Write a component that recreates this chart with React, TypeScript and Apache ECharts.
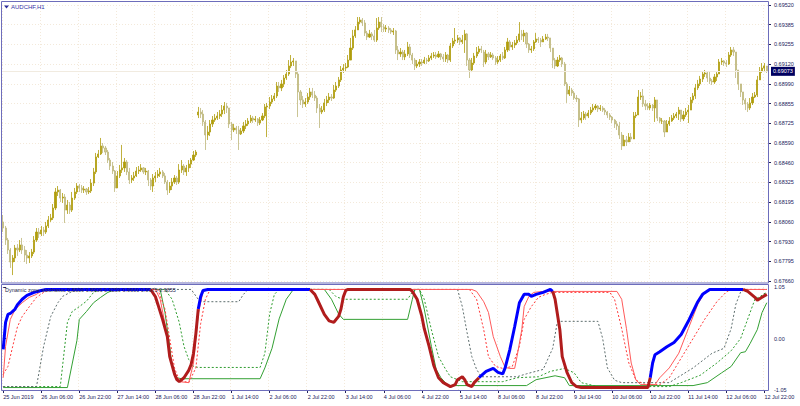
import React, { useEffect, useRef } from "react";
import * as echarts from "echarts";

// ---------- time axis ----------
const DAYS = ["25 Jun", "26 Jun", "27 Jun", "28 Jun", "1 Jul", "2 Jul", "3 Jul", "4 Jul", "5 Jul", "8 Jul", "9 Jul", "10 Jul", "11 Jul", "12 Jul"];
const FIRST_HOUR = 14;
const FIRST_LABEL = "25 Jun 2019";
const LABEL_EVERY = 16;
const CATEGORIES: string[] = [];
DAYS.forEach((d, di) => {
  for (let h = di === 0 ? FIRST_HOUR : 0; h < 24; h++) CATEGORIES.push(`${d} ${String(h).padStart(2, "0")}:00`);
});

// ---------- price axis ----------
const PRICE_MIN = 0.6766;
const PRICE_MAX = 0.6952;
const PRICE_TICKS = ["0.67660", "0.67795", "0.67930", "0.68060", "0.68195", "0.68325", "0.68460", "0.68590", "0.68725", "0.68855", "0.68990", "0.69120", "0.69255", "0.69385", "0.69520"];
const LAST_PRICE = 0.69073;

// ---------- AUDCHF H1 candles (price x 1e5) ----------
const OPEN_AT: Record<number, number> = { 0: 68058, 82: 68779, 202: 69203 };
const CLOSE = [
  68017, 67936, 67869, 67788, 67815, 67882, 67869, 67903, 67869, 67835,
  67815, 67829, 67855, 67936, 67990, 67977, 68004, 67990, 68031, 68071,
  68085, 68152, 68260, 68273, 68219, 68226, 68138, 68172, 68138, 68219,
  68260, 68300, 68287, 68273, 68280, 68260, 68267, 68320, 68395, 68496,
  68516, 68570, 68556, 68529, 68475, 68435, 68401, 68287, 68368, 68408,
  68422, 68462, 68395, 68341, 68354, 68368, 68401, 68408, 68422, 68395,
  68401, 68341, 68300, 68354, 68368, 68381, 68395, 68368, 68327, 68273,
  68300, 68327, 68354, 68327, 68408, 68435, 68395, 68422, 68448, 68475,
  68509, 68529, 68799, 68785, 68732, 68644, 68664, 68718, 68745, 68758,
  68772, 68785, 68812, 68839, 68826, 68718, 68678, 68691, 68678, 68651,
  68671, 68705, 68718, 68738, 68758, 68745, 68752, 68725, 68745, 68772,
  68833, 68839, 68866, 68887, 68907, 68974, 68961, 68988, 69028, 69055,
  69109, 69136, 69143, 69055, 68934, 68880, 68853, 68866, 68900, 68934,
  68913, 68893, 68826, 68799, 68812, 68860, 68880, 68900, 68893, 68947,
  68974, 69015, 69082, 69095, 69102, 69149, 69230, 69311, 69352, 69405,
  69419, 69399, 69331, 69304, 69325, 69311, 69284, 69365, 69405, 69372,
  69358, 69365, 69352, 69338, 69345, 69217, 69190, 69203, 69170, 69190,
  69237, 69183, 69149, 69109, 69122, 69136, 69129, 69149, 69143, 69163,
  69176, 69183, 69170, 69190, 69170, 69156, 69183, 69149, 69244, 69277,
  69284, 69298, 69271, 69284, 69325, 69149, 69082, 69129, 69176, 69203,
  69224, 69217, 69136, 69190, 69170, 69183, 69163, 69136, 69149, 69176,
  69163, 69217, 69271, 69237, 69250, 69264, 69284, 69325, 69311, 69331,
  69257, 69217, 69224, 69271, 69291, 69284, 69271, 69291, 69304, 69298,
  69230, 69149, 69109, 69149, 69163, 69122, 68988, 68920, 68947, 68927,
  68893, 68887, 68745, 68758, 68785, 68772, 68792, 68812, 68826, 68839,
  68819, 68826, 68812, 68799, 68779, 68765, 68745, 68718, 68705, 68644,
  68570, 68610, 68597, 68630, 68617, 68772, 68779, 68900, 68907, 68853,
  68839, 68826, 68846, 68826, 68880, 68758, 68738, 68738, 68664, 68718,
  68738, 68758, 68772, 68785, 68812, 68752, 68779, 68799, 68812, 68880,
  68907, 68961, 68988, 69021, 69055, 69062, 69028, 69008, 69001, 69035,
  69055, 69136, 69143, 69129, 69122, 69183, 69217, 69203, 69082, 68988,
  68934, 68880, 68853, 68826, 68860, 68900, 68913, 69015, 69075, 69095,
  69109, 69073,
];
const HIGH = [
  68105, 68031, 67950, 67882, 67835, 67903, 67909, 67936, 67950, 67896,
  67869, 67855, 67876, 67963, 68017, 68017, 68031, 68024, 68058, 68098,
  68112, 68179, 68287, 68300, 68280, 68253, 68246, 68206, 68192, 68260,
  68287, 68320, 68314, 68307, 68300, 68287, 68293, 68347, 68422, 68523,
  68543, 68624, 68590, 68570, 68543, 68489, 68462, 68408, 68401, 68442,
  68577, 68489, 68475, 68422, 68374, 68395, 68428, 68435, 68448, 68428,
  68422, 68408, 68354, 68381, 68395, 68408, 68422, 68408, 68388, 68341,
  68327, 68354, 68374, 68368, 68448, 68475, 68448, 68442, 68475, 68489,
  68536, 68543, 68833, 68826, 68812, 68745, 68705, 68745, 68772, 68785,
  68799, 68812, 68846, 68866, 68860, 68826, 68732, 68718, 68705, 68705,
  68691, 68732, 68745, 68758, 68779, 68772, 68772, 68758, 68765, 68792,
  68853, 68860, 68900, 68913, 68927, 69001, 69001, 69015, 69048, 69082,
  69149, 69183, 69163, 69136, 69068, 68947, 68907, 68893, 68927, 68961,
  68961, 68940, 68907, 68853, 68839, 68887, 68907, 68927, 68920, 68981,
  69001, 69035, 69109, 69122, 69129, 69183, 69298, 69352, 69378, 69439,
  69439, 69432, 69419, 69345, 69352, 69338, 69352, 69432, 69439, 69439,
  69392, 69385, 69378, 69365, 69365, 69352, 69244, 69230, 69217, 69217,
  69271, 69257, 69197, 69163, 69149, 69156, 69156, 69170, 69163, 69183,
  69197, 69203, 69203, 69210, 69197, 69190, 69203, 69190, 69264, 69298,
  69365, 69318, 69304, 69318, 69352, 69331, 69163, 69163, 69197, 69237,
  69244, 69244, 69217, 69217, 69203, 69203, 69197, 69176, 69176, 69190,
  69203, 69237, 69298, 69284, 69271, 69284, 69311, 69405, 69352, 69352,
  69338, 69264, 69244, 69284, 69331, 69304, 69298, 69311, 69325, 69325,
  69298, 69230, 69163, 69170, 69183, 69170, 69136, 69001, 68974, 68961,
  68940, 68913, 68893, 68799, 68806, 68799, 68812, 68833, 68853, 68853,
  68846, 68846, 68839, 68826, 68806, 68792, 68772, 68752, 68738, 68732,
  68664, 68644, 68637, 68657, 68657, 68799, 68799, 68947, 68934, 68954,
  68880, 68860, 68860, 68853, 68900, 68880, 68765, 68758, 68745, 68745,
  68765, 68779, 68792, 68799, 68833, 68812, 68806, 68826, 68846, 68900,
  68927, 68988, 69015, 69042, 69075, 69082, 69075, 69068, 69021, 69055,
  69068, 69156, 69163, 69149, 69149, 69203, 69237, 69237, 69183, 69082,
  68981, 68927, 68893, 68866, 68893, 68927, 68934, 69042, 69102, 69129,
  69129, 69109,
];
const LOW = [
  67990, 67903, 67842, 67748, 67700, 67788, 67829, 67855, 67842, 67788,
  67775, 67781, 67815, 67842, 67923, 67950, 67963, 67963, 67977, 68017,
  68058, 68071, 68138, 68233, 68192, 68186, 68051, 68112, 68112, 68125,
  68206, 68246, 68260, 68253, 68253, 68240, 68246, 68253, 68300, 68381,
  68489, 68509, 68523, 68509, 68455, 68408, 68381, 68260, 68300, 68354,
  68388, 68395, 68374, 68314, 68320, 68334, 68361, 68381, 68395, 68381,
  68374, 68300, 68273, 68260, 68327, 68354, 68361, 68354, 68314, 68240,
  68253, 68273, 68314, 68307, 68314, 68388, 68374, 68368, 68395, 68422,
  68469, 68496, 68758, 68758, 68705, 68543, 68610, 68637, 68698, 68732,
  68745, 68752, 68765, 68785, 68792, 68691, 68610, 68664, 68651, 68543,
  68644, 68657, 68684, 68705, 68725, 68725, 68732, 68705, 68711, 68738,
  68758, 68630, 68819, 68853, 68873, 68893, 68934, 68940, 68967, 69015,
  69042, 69095, 69109, 69028, 68765, 68846, 68826, 68833, 68853, 68880,
  68893, 68873, 68792, 68691, 68785, 68799, 68839, 68860, 68873, 68887,
  68934, 68961, 69001, 69062, 69075, 69095, 69163, 69217, 69298, 69352,
  69392, 69378, 69311, 69284, 69298, 69284, 69271, 69271, 69352, 69338,
  69338, 69338, 69331, 69325, 69318, 69190, 69149, 69170, 69149, 69149,
  69176, 69163, 69122, 69082, 69095, 69102, 69109, 69122, 69122, 69136,
  69149, 69163, 69156, 69163, 69149, 69136, 69136, 69129, 69136, 69230,
  69257, 69264, 69250, 69257, 69197, 69109, 69028, 69068, 69116, 69163,
  69190, 69197, 69102, 69122, 69149, 69163, 69149, 69116, 69122, 69136,
  69149, 69156, 69203, 69210, 69217, 69230, 69250, 69271, 69284, 69271,
  69230, 69197, 69197, 69210, 69264, 69264, 69237, 69271, 69284, 69277,
  69203, 69095, 69089, 69102, 69136, 69102, 68974, 68860, 68907, 68907,
  68880, 68866, 68698, 68725, 68745, 68745, 68758, 68779, 68799, 68812,
  68799, 68806, 68799, 68779, 68758, 68745, 68725, 68691, 68678, 68617,
  68543, 68570, 68570, 68597, 68597, 68617, 68758, 68779, 68880, 68833,
  68812, 68812, 68812, 68806, 68732, 68738, 68725, 68718, 68630, 68678,
  68705, 68732, 68745, 68758, 68745, 68732, 68738, 68765, 68725, 68812,
  68860, 68887, 68947, 68974, 69001, 69035, 69001, 68988, 68981, 68988,
  69008, 69055, 69116, 69109, 69102, 69116, 69170, 69176, 69028, 68947,
  68900, 68846, 68812, 68799, 68812, 68846, 68893, 68900, 69021, 69062,
  69068, 69062,
];

// ---------- Dynamic zone stochastic ([bar index, value]) ----------
const IND_TITLE = "Dynamic zone stochastic 0.8609 0.8906 0.9259 0.9660 0.9975 0.9855";
const IND_MIN = -1.05;
const IND_MAX = 1.05;
const MAIN_LINE: [number, number][] = [[0,-0.22],[1,0.33],[2,0.49],[3,0.51],[5,0.6],[6,0.69],[8,0.8],[10,0.88],[13,0.94],[16,0.98],[18,1],[62,1],[64,0.85],[65,0.7],[67,0.39],[69,0.04],[70,-0.37],[72,-0.72],[73,-0.84],[74,-0.88],[76,-0.8],[78,-0.65],[79,-0.53],[80,-0.3],[81,0.1],[82,0.6],[83,0.85],[84,0.98],[86,1],[129,1],[131,0.9],[132,0.8],[135,0.49],[137,0.36],[139,0.33],[141,0.45],[142,0.6],[143,0.85],[144,0.98],[145,1],[171,1],[172,0.96],[174,0.8],[176,0.45],[177,0.2],[179,-0.15],[181,-0.55],[183,-0.8],[185,-0.9],[188,-0.98],[190,-0.94],[191,-0.84],[193,-0.78],[194,-0.84],[195,-0.94],[197,-0.98],[198,-0.9],[200,-0.8],[203,-0.67],[206,-0.61],[208,-0.69],[210,-0.72],[211,-0.6],[213,-0.22],[215,0.24],[217,0.73],[219,0.9],[221,0.9],[222,0.86],[224,0.9],[227,0.94],[230,1],[231,0.96],[232,0.8],[234,0.18],[235,-0.37],[237,-0.69],[239,-0.9],[241,-0.98],[243,-1],[271,-1],[272,-0.8],[273,-0.5],[274,-0.33],[276,-0.27],[279,-0.17],[282,-0.08],[285,0.08],[288,0.35],[290,0.55],[292,0.75],[294,0.9],[297,1],[311,1],[313,0.96],[314,0.92],[316,0.84],[317,0.78],[319,0.84],[321,0.9]];
const MAIN_DOWN_RANGES: [number, number][] = [[62, 82], [129, 145], [171, 200], [231, 272], [311, 321]];
const RED_SOLID: [number, number][] = [[0,-0.8],[1,-0.16],[3,0.39],[5,0.59],[8,0.73],[11,0.84],[14,0.9],[17,1],[64,1],[66,0.8],[68,0.3],[70,-0.3],[72,-0.7],[74,-0.88],[78,-0.9],[80,-0.5],[82,0.5],[84,0.95],[86,1],[197,1],[199,0.96],[202,0.75],[204,0.53],[206,0.04],[209,-0.37],[211,-0.59],[213,-0.61],[215,-0.61],[216,-0.37],[218,0.18],[219,0.65],[221,0.86],[223,0.94],[227,0.96],[258,0.96],[260,0.8],[262,0.2],[264,-0.5],[266,-0.85],[268,-0.94],[274,-0.94],[276,-0.8],[280,-0.6],[284,-0.3],[288,0.2],[292,0.7],[295,0.95],[297,1],[321,1]];
const RED_DOT: [number, number][] = [[0,-0.73],[2,-0.57],[4,-0.16],[6,0.24],[8,0.45],[11,0.65],[14,0.84],[17,0.94],[20,1],[65,1],[68,0.6],[70,0],[72,-0.6],[74,-0.85],[78,-0.9],[81,-0.6],[83,0.3],[85,0.8],[87,1],[196,1],[199,0.8],[202,0.18],[204,-0.37],[207,-0.57],[210,-0.61],[214,-0.57],[217,-0.16],[219,0.39],[222,0.65],[225,0.84],[228,0.9],[231,0.94],[255,0.94],[257,0.8],[260,0.2],[263,-0.5],[266,-0.85],[270,-0.94],[276,-0.94],[280,-0.8],[285,-0.4],[290,0],[295,0.4],[300,0.75],[304,0.95],[306,1],[321,1]];
const GRAY_DOT: [number, number][] = [[0,-0.98],[14,-0.98],[17,-0.16],[20,0.45],[23,0.73],[25,0.86],[29,0.96],[34,1],[79,1],[82,0.8],[84,0.75],[99,0.75],[101,0.9],[103,1],[191,1],[193,0.65],[195,0.12],[197,-0.37],[199,-0.63],[201,-0.78],[216,-0.78],[220,-0.72],[227,-0.63],[231,-0.2],[233,0.35],[250,0.35],[252,0],[254,-0.6],[257,-0.85],[260,-0.9],[280,-0.9],[290,-0.6],[298,-0.3],[303,-0.2],[306,0.2],[308,0.7],[310,0.95],[312,1],[321,1]];
const GREEN_DOT: [number, number][] = [[0,-0.98],[24,-0.98],[27,0.33],[29,0.55],[32,0.65],[35,0.76],[38,0.94],[41,1],[68,1],[71,0.8],[74,0.33],[76,-0.16],[78,-0.43],[80,-0.57],[82,-0.59],[108,-0.59],[110,-0.3],[112,0.5],[114,0.9],[116,1],[137,1],[140,0.85],[143,0.8],[170,0.8],[172,0.95],[174,1],[175,1],[177,0.8],[180,0.18],[183,-0.37],[186,-0.63],[188,-0.78],[193,-0.88],[210,-0.88],[216,-0.8],[225,-0.78],[230,-0.67],[236,-0.61],[240,-0.7],[243,-0.9],[250,-0.98],[280,-0.98],[285,-0.9],[293,-0.75],[300,-0.5],[306,-0.25],[310,0],[316,0.8],[318,0.85],[321,0.95]];
const GREEN_SOLID: [number, number][] = [[0,-1],[27,-1],[31,-0.04],[32,0.39],[35,0.55],[38,0.73],[41,0.84],[44,0.94],[47,1],[66,1],[68,0.53],[70,-0.16],[71,-0.57],[73,-0.8],[75,-0.82],[108,-0.82],[110,-0.6],[113,-0.2],[116,0.4],[119,0.8],[122,1],[135,1],[138,0.8],[141,0.5],[143,0.39],[170,0.39],[172,0.8],[173,1],[175,1],[177,0.6],[180,-0.16],[182,-0.63],[184,-0.8],[187,-0.96],[220,-0.96],[224,-0.84],[232,-0.76],[236,-0.8],[238,-0.96],[290,-0.96],[296,-0.9],[302,-0.7],[306,-0.57],[310,-0.29],[312,-0.27],[314,-0.1],[317,0.18],[319,0.53],[321,0.73]];

// ---------- styles ----------
const FONT = "Liberation Sans";
const AXIS_TEXT = "#22225a";
const GRID_LINE = "#f3e9da";
const FRAME = "#6d6dbb";
const BULL = "#b09d0c";
const BEAR = "#d2cc98";
const BEAR_EDGE = "#bdb67a";

function inDown(i: number, strict: boolean) {
  return MAIN_DOWN_RANGES.some(([a, b]) => (strict ? i > a && i < b : i >= a && i <= b));
}

export default function App() {
  const ref = useRef<HTMLDivElement>(null);
  useEffect(() => {
    const chart = echarts.init(ref.current!, null, { renderer: "svg" });
    const candles = CLOSE.map((c, i) => {
      const o = OPEN_AT[i] !== undefined ? OPEN_AT[i] : CLOSE[i - 1];
      const h = Math.max(HIGH[i], o, c);
      const l = Math.min(LOW[i], o, c);
      return [o / 1e5, c / 1e5, l / 1e5, h / 1e5];
    });
    const step = (PRICE_MAX - PRICE_MIN) / (PRICE_TICKS.length - 1);
    const mainUp = MAIN_LINE.map(([i, v]) => [i, inDown(i, true) ? "-" : v]);
    const mainDown = MAIN_LINE.map(([i, v]) => [i, inDown(i, false) ? v : "-"]);
    const everyLabel = (i: number) => i % LABEL_EVERY === 0;
    const thin = (data: any, color: string, type: any, width = 1) => ({
      type: "line", xAxisIndex: 2, yAxisIndex: 1, data, showSymbol: false, symbol: "none",
      lineStyle: { color, width, type }, z: 3, silent: true,
    });

    chart.setOption({
      animation: false,
      backgroundColor: "#ffffff",
      textStyle: { fontFamily: FONT },
      grid: [
        { left: 2, width: 766, top: 5, height: 276 },
        { left: 2, width: 766, top: 287, height: 103 },
      ],
      xAxis: [
        {
          type: "category", gridIndex: 0, data: CATEGORIES, boundaryGap: true,
          axisLine: { show: false, onZero: false }, axisTick: { show: false }, axisLabel: { show: false },
          splitLine: { show: true, interval: everyLabel, lineStyle: { color: GRID_LINE, type: [1, 2] } },
        },
        {
          type: "category", gridIndex: 1, data: CATEGORIES, boundaryGap: true, position: "bottom",
          axisLine: { show: false, onZero: false },
          axisTick: { show: true, alignWithLabel: true, interval: everyLabel, length: 3, lineStyle: { color: AXIS_TEXT } },
          axisLabel: {
            interval: everyLabel, formatter: (v: string, i: number) => (i === 0 ? FIRST_LABEL : v),
            fontSize: 5.5, color: AXIS_TEXT, fontFamily: FONT, align: "left", margin: 4,
          },
          splitLine: { show: true, interval: everyLabel, lineStyle: { color: GRID_LINE, type: [1, 2] } },
        },
        { type: "value", gridIndex: 1, min: -0.5, max: CATEGORIES.length - 0.5, show: false },
      ],
      yAxis: [
        {
          type: "value", gridIndex: 0, position: "right", min: PRICE_MIN, max: PRICE_MAX, interval: step,
          axisLine: { show: false },
          axisTick: { show: true, length: 3, lineStyle: { color: AXIS_TEXT } },
          axisLabel: {
            formatter: (v: number) => PRICE_TICKS[Math.round((v - PRICE_MIN) / step)] ?? "",
            fontSize: 5.5, color: AXIS_TEXT, fontFamily: FONT, margin: 6,
          },
          splitLine: { show: true, lineStyle: { color: GRID_LINE, type: [1, 2] } },
        },
        {
          type: "value", gridIndex: 1, position: "right", min: IND_MIN, max: IND_MAX, interval: 1.05,
          axisLine: { show: false },
          axisTick: { show: true, length: 3, lineStyle: { color: AXIS_TEXT } },
          axisLabel: { formatter: (v: number) => v.toFixed(2), fontSize: 5.5, color: AXIS_TEXT, fontFamily: FONT, margin: 6 },
          splitLine: { show: false },
        },
      ],
      series: [
        {
          type: "line", xAxisIndex: 0, yAxisIndex: 0, data: [], silent: true, z: 1,
          markLine: {
            silent: true, symbol: ["none", "none"], precision: 5,
            data: [{ yAxis: LAST_PRICE }],
            lineStyle: { color: "#f1ebe0", width: 1, type: "solid" },
            label: {
              show: true, position: "end", formatter: LAST_PRICE.toFixed(5), distance: 3,
              backgroundColor: "#000060", color: "#ffffff", fontSize: 5.5, fontFamily: FONT, padding: [1.5, 2, 1.5, 2],
            },
          },
        },
        {
          type: "candlestick", xAxisIndex: 0, yAxisIndex: 0, data: candles, barWidth: 1.6, z: 2,
          itemStyle: { color: BULL, color0: BEAR, borderColor: BULL, borderColor0: BEAR_EDGE, borderWidth: 0.8 },
          silent: true,
        },
        thin(GREEN_SOLID, "#33a033", "solid"),
        thin(GREEN_DOT, "#2e9c2e", [2, 2]),
        thin(GRAY_DOT, "#5e6e6e", [2, 2]),
        thin(RED_DOT, "#ff3a3a", [2, 2]),
        thin(RED_SOLID, "#ff5a5a", "solid"),
        { ...thin(mainUp, "#0000ff", "solid", 3), z: 5 },
        { ...thin(mainDown, "#b01c1c", "solid", 3), z: 5 },
      ],
      graphic: [
        { type: "rect", z: 100, silent: true, shape: { x: 1.5, y: 1.5, width: 767, height: 281.5 }, style: { fill: "none", stroke: FRAME, lineWidth: 1 } },
        { type: "rect", z: 100, silent: true, shape: { x: 1.5, y: 284.5, width: 767, height: 106 }, style: { fill: "none", stroke: FRAME, lineWidth: 1 } },
        { type: "polygon", z: 101, silent: true, shape: { points: [[4, 5.5], [9, 5.5], [6.5, 8.5]] }, style: { fill: "#2b2b9a" } },
        { type: "text", z: 101, silent: true, x: 11, y: 3.5, style: { text: "AUDCHF,H1", fontSize: 6, fill: "#3434a8", fontFamily: FONT } },
        { type: "text", z: 101, silent: true, x: 5, y: 287, style: { text: IND_TITLE, fontSize: 5.5, fill: "#26264a", fontFamily: FONT } },
      ],
    });
    return () => chart.dispose();
  }, []);
  return <div ref={ref} style={{ position: "absolute", left: 0, top: 0, width: 800, height: 406 }} />;
}
